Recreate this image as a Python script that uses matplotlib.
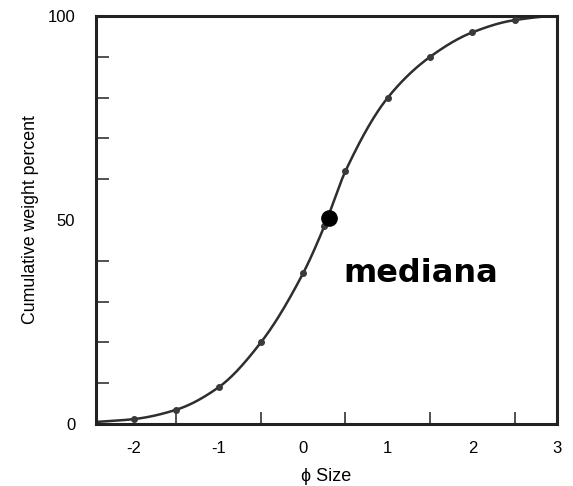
import numpy as np
import matplotlib.pyplot as plt

# sieve results: phi size vs cumulative weight percent
phi = [-2.0, -1.5, -1.0, -0.5, 0.0, 0.25, 0.5, 1.0, 1.5, 2.0, 2.5]
cum_pct = [1.2, 3.5, 9.0, 20.0, 37.0, 48.5, 62.0, 80.0, 90.0, 96.0, 99.0]

# ends of the drawn curve
phi_start, pct_start = -2.45, 0.5
phi_end, pct_end = 3.0, 100.0

median_phi, median_pct = 0.31, 50.5


def pchip(xk, yk, xs):
    # monotone cubic hermite, keeps the curve from overshooting
    xk = np.asarray(xk, float)
    yk = np.asarray(yk, float)
    h = np.diff(xk)
    d = np.diff(yk) / h
    m = np.zeros_like(yk)
    for i in range(1, len(xk) - 1):
        if d[i - 1] * d[i] > 0:
            w1 = 2 * h[i] + h[i - 1]
            w2 = h[i] + 2 * h[i - 1]
            m[i] = (w1 + w2) / (w1 / d[i - 1] + w2 / d[i])
    m[0] = d[0]
    m[-1] = 0.0
    idx = np.clip(np.searchsorted(xk, xs) - 1, 0, len(h) - 1)
    t = (xs - xk[idx]) / h[idx]
    h00 = 2 * t**3 - 3 * t**2 + 1
    h10 = t**3 - 2 * t**2 + t
    h01 = -2 * t**3 + 3 * t**2
    h11 = t**3 - t**2
    return (h00 * yk[idx] + h10 * h[idx] * m[idx]
            + h01 * yk[idx + 1] + h11 * h[idx] * m[idx + 1])


xk = [phi_start] + phi + [phi_end]
yk = [pct_start] + cum_pct + [pct_end]
xs = np.linspace(phi_start, phi_end, 400)
ys = pchip(xk, yk, xs)

plt.rcParams['font.family'] = ['Liberation Sans', 'DejaVu Sans']
plt.rcParams['axes.unicode_minus'] = False

fig = plt.figure(figsize=(5.73, 4.86), dpi=100)
ax = fig.add_axes([0.1675, 0.1276, 0.8045, 0.8394])

ax.plot(xs, ys, color='#2e2e2e', lw=1.8, zorder=2)
ax.plot(phi, cum_pct, 'o', color='#3a3a3a', ms=4, zorder=3)
ax.plot(median_phi, median_pct, 'o', color='black', ms=11, zorder=4)

ax.text(0.47, 37, 'mediana', fontsize=23, fontweight='bold',
        family='DejaVu Sans', ha='left', va='center')

ax.set_xlim(-2.45, 3.0)
ax.set_ylim(0, 100)

ax.set_xticks([-2, -1, 0, 1, 2, 3])
ax.set_xticks(np.arange(-2.0, 3.0, 0.5), minor=True)
ax.set_yticks([0, 50, 100])
ax.set_yticks(np.arange(10, 100, 10), minor=True)

ax.tick_params(axis='x', which='both', direction='in', length=0)
ax.tick_params(axis='x', which='minor', length=9, width=1.2, color='#333333')
ax.tick_params(axis='x', which='major', pad=12, labelsize=12)
ax.tick_params(axis='y', which='major', length=0, pad=15, labelsize=12)
ax.tick_params(axis='y', which='minor', direction='in', length=9,
               width=1.2, color='#333333')

for s in ax.spines.values():
    s.set_linewidth(2.2)
    s.set_color('#222222')

ax.set_xlabel('\u03d5 Size', fontsize=13, labelpad=9)
ax.set_ylabel('Cumulative weight percent', fontsize=12.8, labelpad=6)

fig.savefig('out.png', dpi=100)
